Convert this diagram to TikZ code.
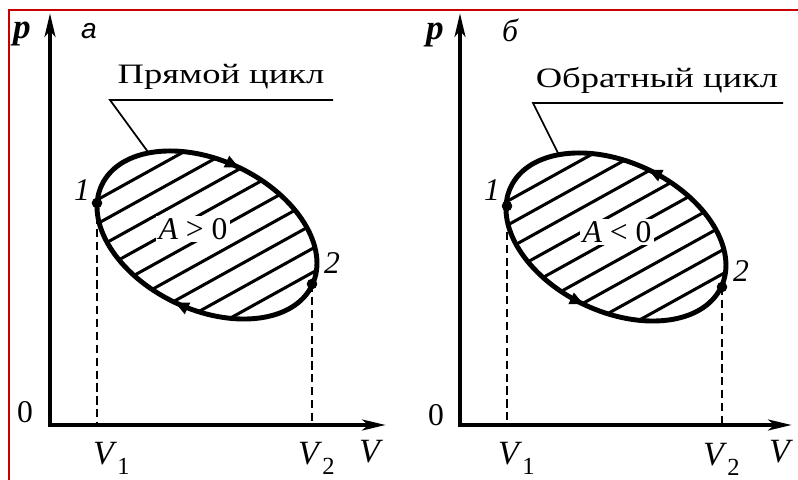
\documentclass[tikz,border=0pt]{standalone}
\usepackage{fontspec}
\setmainfont{Liberation Serif}
\newfontfamily\widefont[FakeStretch=1.3]{Liberation Serif}
\newfontfamily\sansfont{Liberation Sans}
\usetikzlibrary{arrows.meta,decorations.markings,calc}
\definecolor{framered}{RGB}{200,0,0}
\begin{document}
\begin{tikzpicture}[x=0.03cm,y=-0.03cm,
  axisline/.style={line width=4.2pt,-{Stealth[length=20pt,width=9pt,inset=5pt]}},
  cycleline/.style={line width=4.2pt},
  hatchline/.style={line width=2.6pt},
  leaderline/.style={line width=1.5pt},
  dropline/.style={line width=2.4pt,dash pattern=on 7pt off 4pt},
  dotmark/.style={circle,fill=black,inner sep=0pt,minimum size=9pt},
  ilab/.style={font=\fontsize{27}{29}\selectfont\itshape,inner sep=0pt},
  plab/.style={font=\fontsize{30}{32}\selectfont\bfseries\itshape,inner sep=0pt},
  vlab/.style={font=\fontsize{29}{31}\selectfont,inner sep=0pt,anchor=base west},
  zlab/.style={font=\fontsize{27}{29}\selectfont,inner sep=0pt},
  title/.style={font=\fontsize{24}{26}\selectfont\widefont,inner sep=0pt},
  alab/.style={font=\fontsize{27}{29}\selectfont,fill=white,inner sep=2pt},
  cwarrows/.style={postaction={decorate,decoration={markings,
      mark=at position 0.25 with {\arrowreversed{Triangle[length=12pt,width=10pt]}},
      mark=at position 0.75 with {\arrowreversed{Triangle[length=12pt,width=10pt]}}}}},
  ccwarrows/.style={postaction={decorate,decoration={markings,
      mark=at position 0.25 with {\arrow{Triangle[length=12pt,width=10pt]}},
      mark=at position 0.75 with {\arrow{Triangle[length=12pt,width=10pt]}}}}},
]
\useasboundingbox (0,0) rectangle (798,480);
\draw[framered,line width=1.8pt] (9,481) -- (9,10) -- (799,10);

% ---------- left panel ----------
\coordinate (O1) at (50,425);
\coordinate (Y1) at (50,13);
\coordinate (X1) at (386,425);
\coordinate (C1) at (207,235);
\coordinate (P1a) at (97,203);
\coordinate (P1b) at (312,284);
\coordinate (L1a) at (333,100);
\coordinate (L1b) at (110,100);
\coordinate (L1c) at (148,152);

\begin{scope}
  \clip[rotate around={-25.5:(C1)}] (C1) ellipse [x radius=3.495cm, y radius=2.241cm];
  \foreach \k in {-6,...,6}
    \draw[hatchline] ($(C1)+(\k*21*0.4848-160*0.8746,\k*21*0.8746+160*0.4848)$) -- ++(320*0.8746,-320*0.4848);
\end{scope}
\node[alab] (A1) at (193,229) {\textit{A} > 0};
\draw[cycleline,cwarrows,rotate around={-25.5:(C1)}] (C1) ellipse [x radius=3.495cm, y radius=2.241cm];
\draw[axisline] (O1) -- (Y1);
\draw[axisline] ($(O1)+(-2,0)$) -- (X1);
\draw[dropline] (P1a) -- (P1a |- O1);
\draw[dropline] (P1b) -- (P1b |- O1);
\node[dotmark] (D1a) at (P1a) {};
\node[dotmark] (D1b) at (P1b) {};
\draw[leaderline] (L1a) -- (L1b) -- (L1c);
\node[title] (T1) at (221,77) {Прямой цикл};
\node[plab] (p1) at (22,34) {p};
\node[font=\fontsize{24}{26}\selectfont\sansfont\itshape,inner sep=0pt] (a1) at (89,31) {а};
\node[zlab] (z1) at (25,412) {0};
\node[ilab] (n1a) at (82,190) {1};
\node[ilab] (n1b) at (332,263) {2};
\node[vlab] (v1a) at (93,464) {\textit{V}\raisebox{-0.3em}{\fontsize{21}{23}\selectfont 1}};
\node[vlab] (v1b) at (298,464) {\textit{V}\raisebox{-0.3em}{\fontsize{21}{23}\selectfont 2}};
\node[vlab] (v1c) at (359,462) {\textit{V}};

% ---------- right panel ----------
\coordinate (O2) at (460,425);
\coordinate (Y2) at (460,13);
\coordinate (X2) at (792,425);
\coordinate (C2) at (616,237);
\coordinate (P2a) at (507,206);
\coordinate (P2b) at (722,287);
\coordinate (L2a) at (783,103);
\coordinate (L2b) at (533,103);
\coordinate (L2c) at (558,153);

\begin{scope}
  \clip[rotate around={-25.5:(C2)}] (C2) ellipse [x radius=3.495cm, y radius=2.241cm];
  \foreach \k in {-6,...,6}
    \draw[hatchline] ($(C2)+(\k*21*0.4848-160*0.8746,\k*21*0.8746+160*0.4848)$) -- ++(320*0.8746,-320*0.4848);
\end{scope}
\node[alab] (A2) at (617,232) {\textit{A} < 0};
\draw[cycleline,ccwarrows,rotate around={-25.5:(C2)}] (C2) ellipse [x radius=3.495cm, y radius=2.241cm];
\draw[axisline] (O2) -- (Y2);
\draw[axisline] ($(O2)+(-2,0)$) -- (X2);
\draw[dropline] (P2a) -- (P2a |- O2);
\draw[dropline] (P2b) -- (P2b |- O2);
\node[dotmark] (D2a) at (P2a) {};
\node[dotmark] (D2b) at (P2b) {};
\draw[leaderline] (L2a) -- (L2b) -- (L2c);
\node[title] (T2) at (657,80) {Обратный цикл};
\node[plab] (p2) at (435,35) {p};
\node[ilab] (b2) at (510,30) {б};
\node[zlab] (z2) at (436,415) {0};
\node[ilab] (n2a) at (492,190) {1};
\node[ilab] (n2b) at (741,271) {2};
\node[vlab] (v2a) at (498,464) {\textit{V}\raisebox{-0.3em}{\fontsize{21}{23}\selectfont 1}};
\node[vlab] (v2b) at (703,465) {\textit{V}\raisebox{-0.3em}{\fontsize{21}{23}\selectfont 2}};
\node[vlab] (v2c) at (769,462) {\textit{V}};
\end{tikzpicture}
\end{document}
